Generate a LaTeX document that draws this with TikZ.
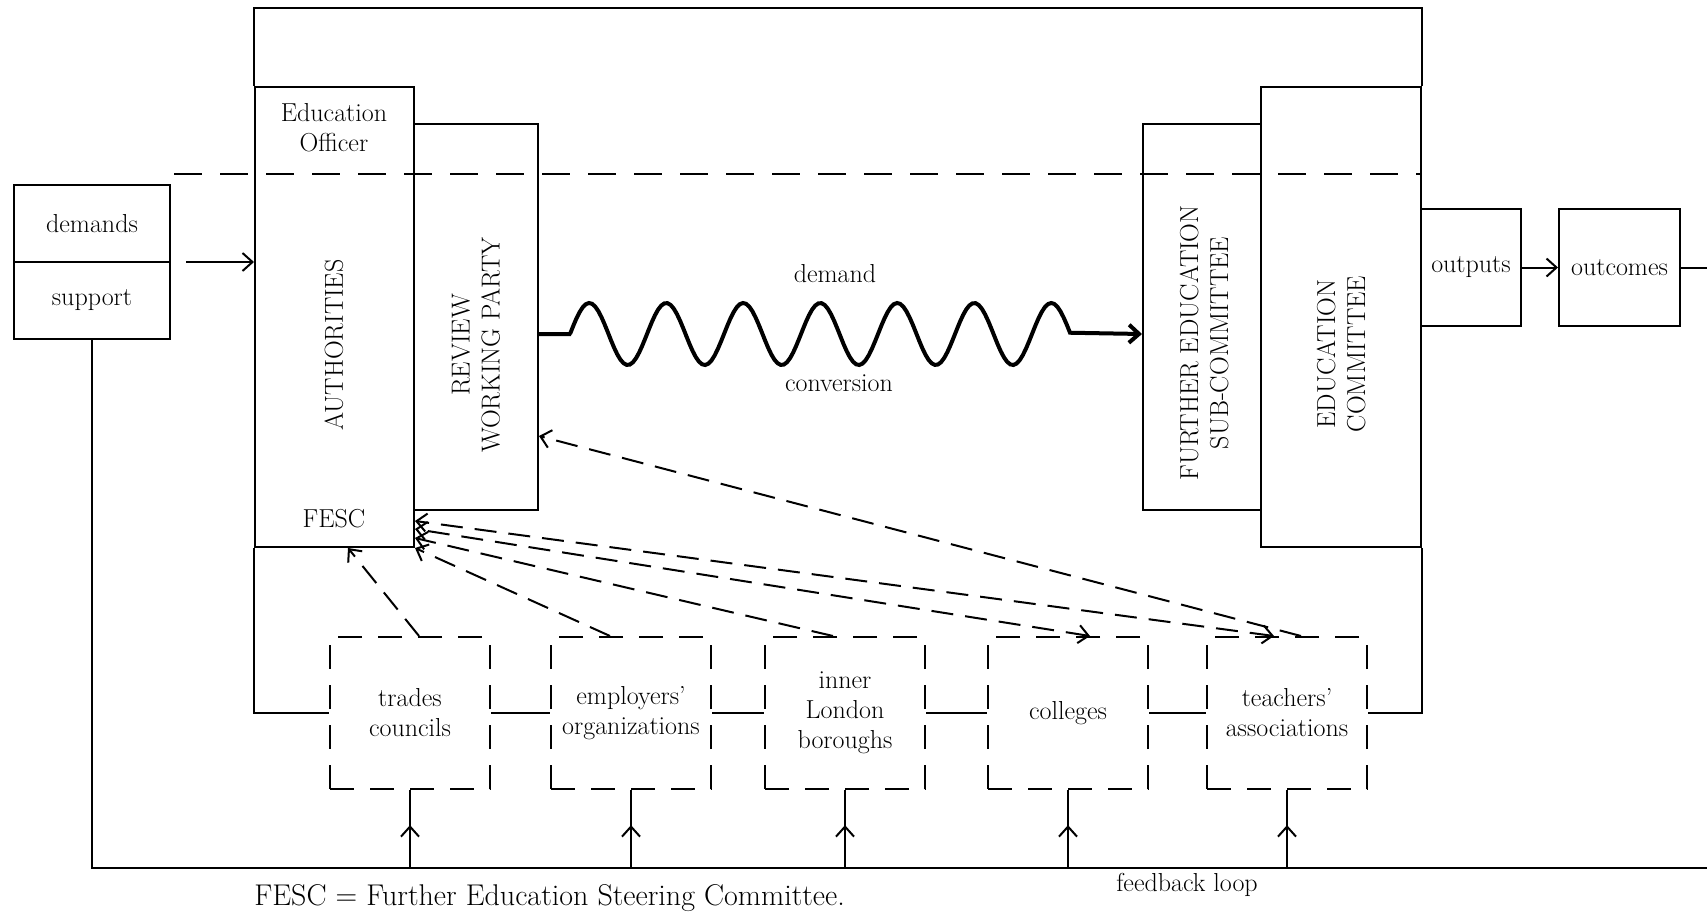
\documentclass[tikz,border=0pt]{standalone}
\usepackage{fontspec}
\usetikzlibrary{arrows.meta,decorations.markings}

\tikzset{
  box/.style={draw, inner sep=0pt, align=center},
  group/.style={draw, dash pattern=on 24pt off 16pt, minimum width=160pt,
    minimum height=152pt, inner sep=0pt, align=center},
  arr/.style={-{Straight Barb[length=10pt,width=18pt]}},
  arrs/.style={{Straight Barb[length=10pt,width=18pt]}-{Straight Barb[length=10pt,width=18pt]}},
  lead/.style={dash pattern=on 22pt off 12pt},
  midarrow/.style={postaction={decorate}, decoration={markings,
    mark=at position 0.55 with {\arrow{Straight Barb[length=10pt,width=18pt]}}}},
}

\begin{document}
\begin{tikzpicture}[x=1pt, y=-1pt, line width=2pt, font=\fontsize{26}{30}\selectfont]
\useasboundingbox (0,0) rectangle (1707,913);

% input side
\node[box, minimum width=156pt, minimum height=154pt] (inputs) at (92,262) {};
\draw (inputs.west) -- (inputs.east);
\node (demands) at (92,223.5) {demands};
\node (support) at (92,300.5) {support};

% the authority and the committees
\node[box, minimum width=159pt, minimum height=460pt] (auth) at (334.5,317) {};
\node[box, minimum width=124pt, minimum height=386pt] (rwp) at (476,317) {};
\node[box, minimum width=118pt, minimum height=386pt] (fesub) at (1202,317) {};
\node[box, minimum width=160pt, minimum height=460pt] (edcomm) at (1341,317) {};
\node[align=center] (officer) at (334,128) {Education\\Officer};
\node[rotate=90] (authtxt) at (334,345) {AUTHORITIES};
\node (fesc) at (334,519) {FESC};
\node[rotate=90, align=center] (rwptxt) at (476,345) {REVIEW\\WORKING PARTY};
\node[rotate=90, align=center] (fesubtxt) at (1204,343) {FURTHER EDUCATION\\SUB-COMMITTEE};
\node[rotate=90, align=center] (edcommtxt) at (1341,354) {EDUCATION\\COMMITTEE};

% outputs
\node[box, minimum width=100pt, minimum height=117pt] (outputs) at (1471,267.5) {outputs};
\node[box, minimum width=121pt, minimum height=117pt] (outcomes) at (1619.5,267.5) {outcomes};

% pressure groups
\node[group] (trades) at (410,713) {trades\\councils};
\node[group] (employers) at (631,713) {employers'\\organizations};
\node[group] (london) at (845,713) {inner\\London\\boroughs};
\node[group] (colleges) at (1068,713) {colleges};
\node[group] (teachers) at (1287,713) {teachers'\\associations};

% frame of the system
\draw (auth.north west) -- ++(0,-78) -| (edcomm.north east);
\draw (auth.south west) |- (trades.west);
\foreach \a/\b in {trades/employers, employers/london, london/colleges, colleges/teachers}
  \draw (\a.east) -- (\b.west);
\draw (teachers.east) -| (edcomm.south east);
\draw[dash pattern=on 28pt off 18pt] (174,174) -- (edcomm.east |- 0,174);

% flows
\draw[arr] ([xshift=15pt]inputs.east) -- (auth.west |- inputs.east);
\draw[arr, line width=4pt] (rwp.east) ++(0,17) -- ++(32,0)
  -- plot[domain=0:500, samples=160] (570+\x,{334-31*sin(4.6753*\x)})
  -- (fesub.west |- 0,334);
\node (demand) at (835,274) {demand};
\node (conversion) at (839,383) {conversion};
\draw[arr] (outputs) -- (outcomes);

% feedback loop
\coordinate (edge) at (1707,868);
\draw (outcomes.east) -- (outcomes.east -| edge);
\draw (inputs.south) |- (edge);
\foreach \b in {trades, employers, london, colleges, teachers}
  \draw[midarrow] (\b.south |- edge) -- (\b.south);
\node (fbtext) at (1187,885) {feedback loop};

% pressure on the authority
\draw[lead, arr] ([xshift=9pt]trades.north) -- ([xshift=13.5pt]auth.south);
\draw[lead, arr] ([xshift=-21pt]employers.north) -- (auth.south east);
\draw[lead, arr] ([xshift=-12pt]london.north) -- ([yshift=10pt]auth.south east);
\draw[lead, arrs] ([xshift=22pt]colleges.north) -- ([yshift=19pt]auth.south east);
\draw[lead, arrs] ([xshift=-13pt]teachers.north) -- ([yshift=27pt]auth.south east);
\draw[lead, arr] ([xshift=14pt]teachers.north) -- ([yshift=75pt]rwp.south east);

\node[anchor=west, font=\fontsize{30}{34}\selectfont] (note) at (250,898) {FESC = Further Education Steering Committee.};
\end{tikzpicture}
\end{document}
